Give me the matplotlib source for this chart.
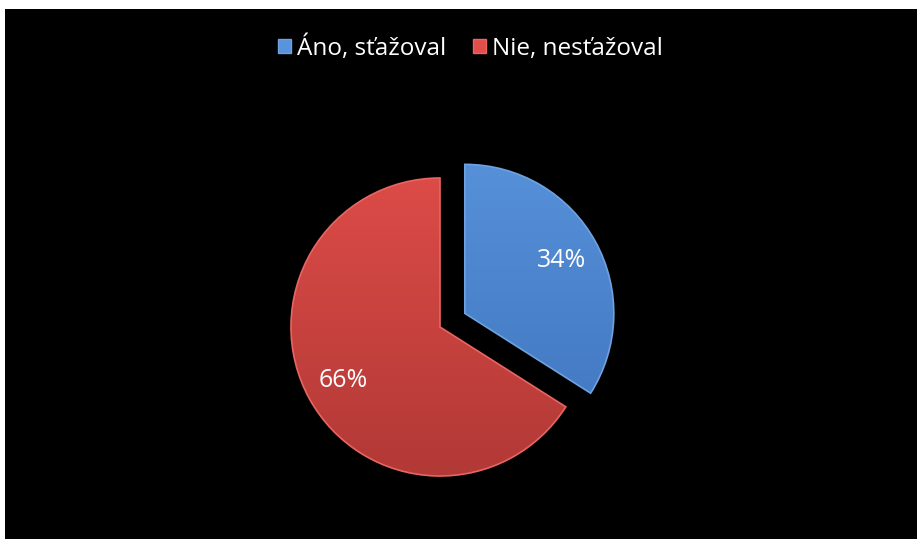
import numpy as np
import matplotlib
matplotlib.use("Agg")
import matplotlib.pyplot as plt
from matplotlib.colors import LinearSegmentedColormap
from matplotlib.patches import Rectangle

plt.rcParams['font.family'] = ['Open Sans', 'DejaVu Sans']

# data
labels = ['Áno, sťažoval', 'Nie, nesťažoval']
values = [34, 66]
top_colors = ['#5893db', '#e24e4a']
bottom_colors = ['#3d72bb', '#b03835']
edge_colors = ['#6ea2e0', '#e96561']
explode = [0.19, 0.0]

fig = plt.figure(figsize=(9.17, 5.39), dpi=100)
fig.patch.set_facecolor('white')
# black plot area, white strip at top and left
fig.add_artist(Rectangle((5 / 917, 0), 1, 1 - 9 / 539, transform=fig.transFigure,
                         facecolor='black', edgecolor='none', zorder=0))

ax = fig.add_axes([0, 0, 1, 1])
ax.set_facecolor('none')

wedges, texts, autotexts = ax.pie(
    values, startangle=90, counterclock=False, explode=explode,
    colors=top_colors, autopct='%d%%', pctdistance=0.74,
    wedgeprops=dict(edgecolor='none'),
    textprops=dict(color='white', fontsize=18))

# vertical gradient inside each wedge
for w, c1, c2, ec in zip(wedges, top_colors, bottom_colors, edge_colors):
    cmap = LinearSegmentedColormap.from_list('g', [c2, c1])
    grad = np.linspace(0, 1, 256).reshape(-1, 1)
    im = ax.imshow(grad, cmap=cmap, origin='lower', extent=(-1.3, 1.5, -1.1, 1.3),
                   aspect='auto', zorder=1)
    im.set_clip_path(w)
    w.set_facecolor('none')
    w.set_edgecolor(ec)
    w.set_linewidth(1.2)
    w.set_zorder(2)
for t in autotexts:
    t.set_zorder(3)

# scale: radius 1 = 149 px, pie centre at (440, 327) px from top-left
ax.set_aspect('auto')
ax.set_xlim(-440 / 149, (917 - 440) / 149)
ax.set_ylim(-(539 - 327) / 149, 327 / 149)
ax.axis('off')

handles = [Rectangle((0, 0), 1, 1, facecolor=c, edgecolor=e, linewidth=1)
           for c, e in zip(top_colors, edge_colors)]
leg = fig.legend(handles, labels, loc='center', bbox_to_anchor=(0.513, 1 - 48 / 539),
                 ncol=2, frameon=False, fontsize=17.5, labelcolor='white',
                 handlelength=0.55, handleheight=0.55, handletextpad=0.25,
                 columnspacing=1.1)

fig.savefig('out.png', dpi=100, facecolor=fig.get_facecolor())
